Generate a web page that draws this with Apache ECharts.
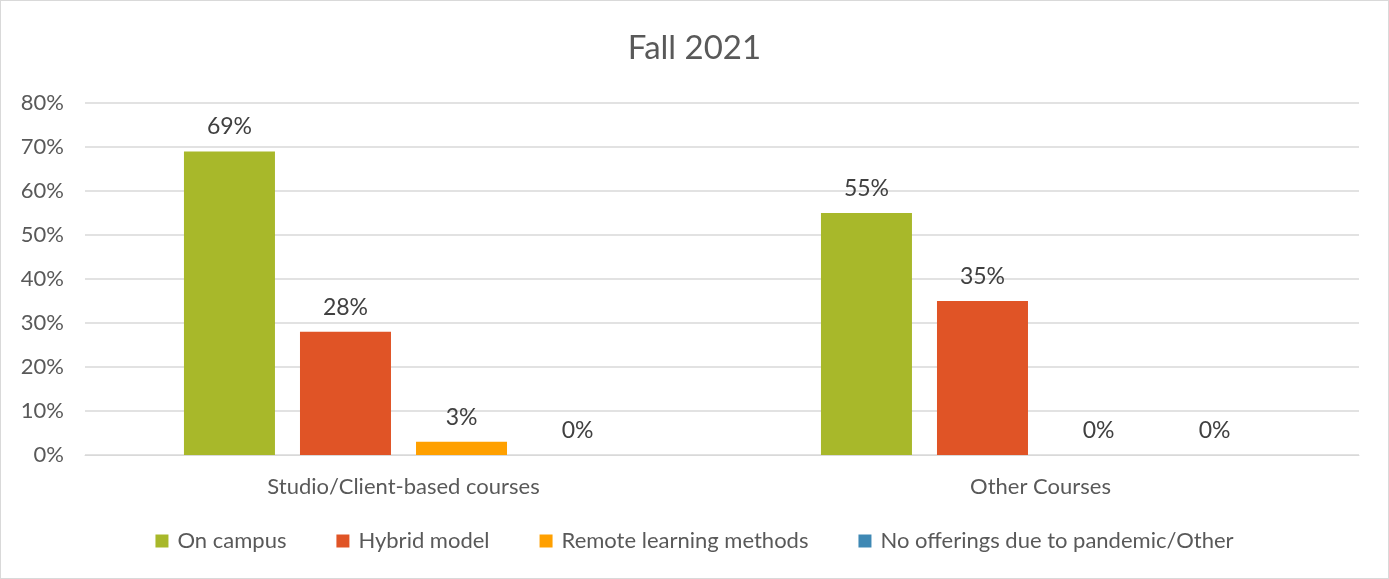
<!DOCTYPE html>
<html><head><meta charset="utf-8">
<script src="https://cdn.jsdelivr.net/npm/echarts@6/dist/echarts.min.js"></script>
<style>html,body{margin:0;padding:0;background:#fff}#c{width:1389px;height:579px;box-sizing:border-box;border:1px solid #d9d9d9}</style>
</head><body><div id="c"></div>
<script>
const categories = ['Studio/Client-based courses', 'Other Courses'];
const seriesNames = ['On campus', 'Hybrid model', 'Remote learning methods', 'No offerings due to pandemic/Other'];
const onCampus = [69, 55];
const hybrid = [28, 35];
const remote = [3, 0];
const noOfferings = [0, 0];
const yTicks = [0, 10, 20, 30, 40, 50, 60, 70, 80];
const colors = ['#A8B82A', '#E05426', '#FFA000', '#3E88B4'];
const values = [onCampus, hybrid, remote, noOfferings];
const font = 'Lato, "Noto Sans", sans-serif';
const chart = echarts.init(document.getElementById('c'));
chart.setOption({
  animation: false,
  textStyle: { fontFamily: font },
  title: { text: 'Fall 2021', left: 'center', top: 26, textStyle: { fontFamily: font, fontSize: 33, fontWeight: 'normal', color: '#595959' } },
  legend: { bottom: 21, left: 'center', itemWidth: 13, itemHeight: 13, itemGap: 50, icon: 'rect',
    textStyle: { fontFamily: font, fontSize: 22, color: '#595959', padding: [0, 0, 0, 4] }, data: seriesNames },
  grid: { left: 84, right: 29, top: 102, bottom: 123, containLabel: false },
  xAxis: { type: 'category', data: categories,
    axisLine: { lineStyle: { color: '#d9d9d9' } }, axisTick: { show: false },
    axisLabel: { fontFamily: font, fontSize: 22, color: '#595959', margin: 21 } },
  yAxis: { type: 'value', min: yTicks[0], max: yTicks[yTicks.length - 1], interval: 10,
    axisLine: { show: false }, axisTick: { show: false },
    splitLine: { lineStyle: { color: '#d9d9d9', width: 1.5 } },
    axisLabel: { formatter: v => v + '%', fontFamily: font, fontSize: 22, color: '#595959', margin: 21 } },
  series: seriesNames.map((n, i) => ({
    name: n, type: 'bar', data: values[i], barWidth: 91, barGap: '27.5%',
    itemStyle: { color: colors[i] },
    label: { show: true, position: 'top', distance: 13, formatter: p => p.value + '%', fontFamily: font, fontSize: 23, color: '#404040' }
  }))
});
</script></body></html>
